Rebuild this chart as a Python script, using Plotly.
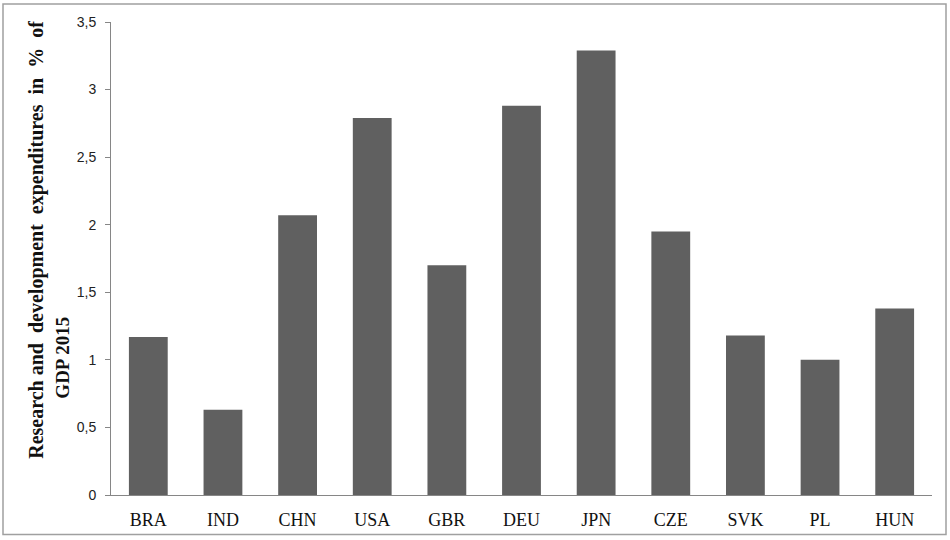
import plotly.graph_objects as go

countries = ["BRA", "IND", "CHN", "USA", "GBR", "DEU", "JPN", "CZE", "SVK", "PL", "HUN"]
rd_share = [1.17, 0.63, 2.07, 2.79, 1.70, 2.88, 3.29, 1.95, 1.18, 1.00, 1.38]
y_ticks = [0, 0.5, 1, 1.5, 2, 2.5, 3, 3.5]
title_line1 = "Research and\u00a0 development\u00a0 expenditures\u00a0 in\u00a0 %\u00a0 of"
title_line2 = "GDP 2015"

# plot area in pixels (for placing decorations in paper coords)
L, R, T, B = 111, 932, 22, 495.5
W, H = R - L, B - T

def px_x(x):
    return (x - L) / W

def px_y(y):
    return (B - y) / H

fig = go.Figure(go.Bar(
    x=countries,
    y=rd_share,
    marker=dict(color="#606060", line=dict(width=0)),
    hoverinfo="x+y",
))

fig.update_layout(
    width=950,
    height=540,
    margin=dict(l=L, r=950 - R, t=T, b=540 - B, autoexpand=False),
    paper_bgcolor="white",
    plot_bgcolor="white",
    separators=", ",
    bargap=0.48,
    showlegend=False,
    xaxis=dict(
        automargin=False,
        showline=True,
        linecolor="#868686",
        linewidth=1,
        ticks="",
        showgrid=False,
        tickfont=dict(family="Liberation Serif", size=18, color="#111111"),
        ticklabelstandoff=8,
    ),
    yaxis=dict(
        automargin=False,
        range=[0, 3.5],
        tickvals=y_ticks,
        showline=True,
        linecolor="#868686",
        linewidth=1,
        ticks="outside",
        ticklen=5,
        tickcolor="#868686",
        showgrid=False,
        zeroline=False,
        tickfont=dict(family="Liberation Sans", size=14, color="#222222"),
        ticklabelstandoff=6,
    ),
    shapes=[dict(
        type="rect", xref="paper", yref="paper",
        x0=px_x(3), x1=px_x(946), y0=px_y(535), y1=px_y(4),
        line=dict(color="#a0a0a0", width=1.5), fillcolor="rgba(0,0,0,0)",
        layer="below",
    )],
    annotations=[
        dict(text="<b>" + title_line1 + "</b>", xref="paper", yref="paper",
             x=px_x(37), y=px_y(240), xanchor="center", yanchor="middle",
             textangle=-90, showarrow=False,
             font=dict(family="Liberation Serif", size=20, color="#111111")),
        dict(text="<b>" + title_line2 + "</b>", xref="paper", yref="paper",
             x=px_x(63), y=px_y(358), xanchor="center", yanchor="middle",
             textangle=-90, showarrow=False,
             font=dict(family="Liberation Serif", size=19, color="#111111")),
    ],
)

fig.write_html(
    "out.html",
    config={"displayModeBar": False},
    post_script="document.body.style.margin='0';document.body.style.overflow='hidden';",
)
